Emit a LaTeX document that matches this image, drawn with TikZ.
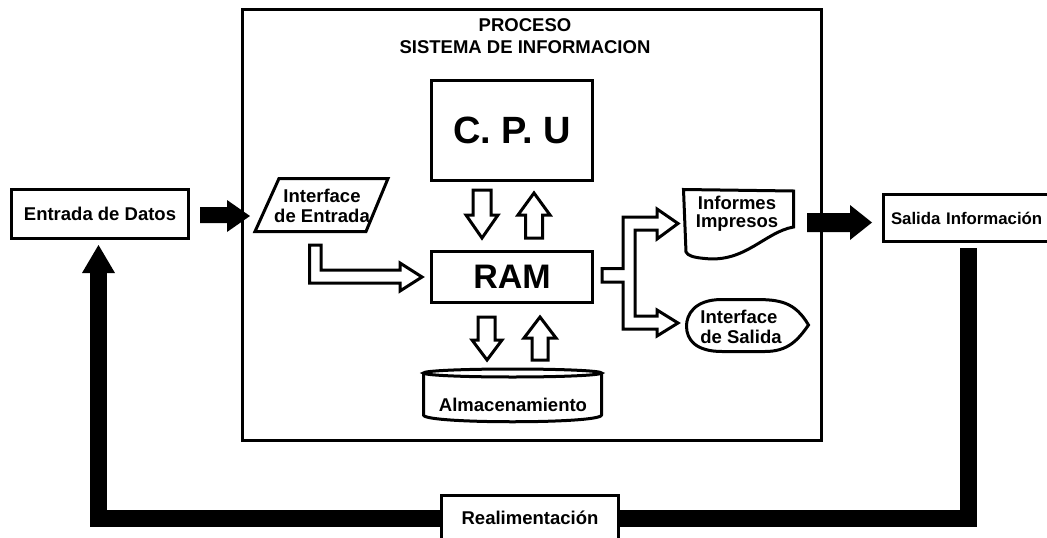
\documentclass[tikz,border=0pt]{standalone}
\usepackage{fontspec}
\setmainfont{Liberation Sans}
\usetikzlibrary{calc}
\begin{document}
\begin{tikzpicture}[x=1pt,y=-1pt,line join=miter,
  lbl/.style={font=\fontsize{18.5}{20}\selectfont\bfseries,inner sep=0pt,align=center},
  box/.style={draw,line width=3pt,fill=white,inner sep=0pt},
  hollow/.style={draw,line width=3pt,fill=white},
  solidarrow/.style={fill=black},
  feedback/.style={line width=17pt}]
\useasboundingbox (0,0) rectangle (1047,538);
\clip (0,0) rectangle (1047,538);
\fill[white] (0,0) rectangle (1047,538);

% feedback loop
\draw[feedback] (968.5,248) -- (968.5,518) -- (98.5,518) -- (98.5,272);
\fill[solidarrow] (82,273) -- (98.5,245) -- (115,273) -- cycle;
\node[box,minimum width=177pt,minimum height=70pt,anchor=north] (realim) at (530,493.5) {};
\node[lbl] (realimtxt) at (530,518) {Realimentación};

% process box
\node[box,fill=none,minimum width=579pt,minimum height=431pt] (proceso) at (532,224.5) {};
\node[lbl,font=\fontsize{18.5}{22}\selectfont\bfseries] (titulo) at (525,36) {PROCESO\\SISTEMA DE INFORMACION};

% entry / exit boxes
\node[box,lbl,draw,minimum width=177pt,minimum height=49pt] (entrada) at (100,214) {Entrada de Datos};
\node[box,lbl,draw,minimum width=200pt,minimum height=47pt,text width=184pt,align=left,anchor=west,font=\fontsize{16.8}{20}\selectfont\bfseries] (salida) at (881.5,218) {Salida Información};

% black arrows
\fill[solidarrow] (200,207) -- (227,207) -- (227,200) -- (250,216) -- (227,232) -- (227,223) -- (200,223) -- cycle;
\fill[solidarrow] (807,213) -- (850,213) -- (850,205) -- (872,222.5) -- (850,240) -- (850,232) -- (807,232) -- cycle;

% CPU and RAM
\node[box,minimum width=161pt,minimum height=100pt,font=\fontsize{38}{42}\selectfont\bfseries] (cpu) at (512,130.5) {C. P. U};
\node[box,minimum width=161pt,minimum height=51pt,font=\fontsize{34}{38}\selectfont\bfseries] (ram) at (512,277) {RAM};

% hollow arrows CPU <-> RAM
\draw[hollow] (473,190) -- (491,190) -- (491,215) -- (498,215) -- (482,238) -- (466,215) -- (473,215) -- cycle;
\draw[hollow] (525.5,238) -- (542.5,238) -- (542.5,215) -- (550,215) -- (534,193) -- (518,215) -- (525.5,215) -- cycle;
% hollow arrows RAM <-> storage
\draw[hollow] (478,317) -- (495,317) -- (495,340) -- (502,340) -- (487,360) -- (472,340) -- (478,340) -- cycle;
\draw[hollow] (532,360) -- (548,360) -- (548,338) -- (556,338) -- (540,317) -- (524,338) -- (532,338) -- cycle;

% storage cylinder
\draw[hollow] (423.5,373) -- (423.5,415) .. controls (423.5,424) and (601.5,424) .. (601.5,415) -- (601.5,373);
\draw[hollow] (512.5,373) ellipse [x radius=89pt,y radius=4pt];
\node[lbl] (almac) at (513,405) {Almacenamiento};

% input parallelogram
\draw[hollow] (279,178.5) -- (388,178.5) -- (366,231.5) -- (255,231.5) -- cycle;
\node[lbl] (intent) at (322,206) {Interface\\de Entrada};

% L-shaped hollow arrow to RAM
\draw[hollow] (309.5,245) -- (321,245) -- (321,270) -- (400,270) -- (400,263) -- (422,277) -- (400,291) -- (400,283) -- (309.5,283) -- cycle;

% branching hollow arrow from RAM
\draw[hollow] (602,268.5) -- (623,268.5) -- (623,217) -- (657,217) -- (657,209) -- (678,223.5) -- (657,239) -- (657,230) -- (635,230) -- (635,316) -- (657,316) -- (657,310) -- (678,323) -- (657,336) -- (657,329) -- (623,329) -- (623,282) -- (602,282) -- cycle;

% printed report (document shape)
\draw[hollow] (683.5,189.5) -- (793.5,191) -- (793.5,227) .. controls (765,232) and (745,263) .. (705,258.5) .. controls (694,257.5) and (688,256) .. (686,252) -- cycle;
\node[lbl,font=\fontsize{18.5}{18}\selectfont\bfseries] (informes) at (737,214) {Informes\\Impresos};

% output interface (display shape)
\draw[hollow] (808.5,325) .. controls (795,302) and (780,299.5) .. (755,299.5) -- (722,299.5) .. controls (694,299.5) and (686.5,315) .. (686.5,326) .. controls (686.5,340) and (696,351.5) .. (722,351.5) -- (765,351.5) .. controls (788,351.5) and (798,340) .. (808.5,325) -- cycle;
\node[lbl,align=left] (intsal) at (741,327) {Interface\\de Salida};
\end{tikzpicture}
\end{document}
